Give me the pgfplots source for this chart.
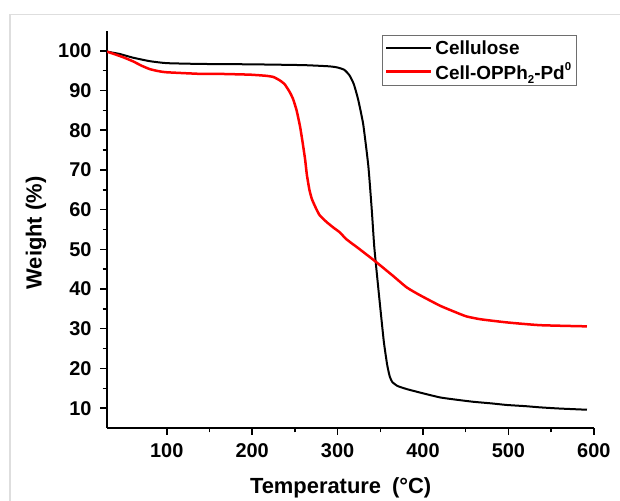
\documentclass[border=0pt]{standalone}
\usepackage{fontspec}
\setmainfont{Liberation Sans}
\usepackage{pgfplots}
\pgfplotsset{compat=1.18}
\definecolor{framegray}{RGB}{222,222,222}
\definecolor{leggray}{RGB}{110,110,110}
\definecolor{tgared}{RGB}{255,0,0}
\newcommand{\sub}[1]{\raisebox{-0.45ex}{\fontsize{11.5}{12}\selectfont #1}}
\newcommand{\super}[1]{\raisebox{0.85ex}{\fontsize{11.5}{12}\selectfont #1}}
\begin{document}
\begin{tikzpicture}[x=1bp,y=1bp]
\useasboundingbox (0,0) rectangle (620,501);
\draw[line width=1.5bp, framegray] (10,0) -- (10,486.5) -- (620,486.5);
\begin{axis}[
  at={(107bp,73bp)}, anchor=south west,
  scale only axis, width=486.8bp, height=397bp,
  xmin=30, xmax=600, ymin=5, ymax=105,
  axis x line*=bottom, axis y line*=left,
  axis line style={line width=1.6bp, -},
  xtick={100,200,...,600}, ytick={10,20,...,100},
  minor x tick num=1, minor y tick num=1,
  tick align=outside,
  major tick length=7bp, minor tick length=4.5bp,
  every tick/.style={line width=1.5bp, black},
  tick label style={font=\fontsize{20}{20}\selectfont\bfseries},
  xticklabel style={yshift=-5bp},
  yticklabel style={xshift=-5bp},
  /pgf/number format/assume math mode=true,
  xlabel={Temperature\hspace{0.5em}(°C)}, ylabel={Weight (\%)},
  label style={font=\fontsize{22}{24}\selectfont\bfseries},
  xlabel style={at={(axis description cs:0.48,-0.151)}, anchor=center},
  ylabel style={at={(axis description cs:-0.146,0.491)}, anchor=center},
  legend style={at={(0.965,0.99)}, anchor=north east, draw=leggray, line width=1.2bp,
     font=\fontsize{19}{21}\selectfont\bfseries, inner xsep=2bp, inner ysep=3bp,
     row sep=3bp, nodes={inner xsep=3bp}},
  legend cell align=left,
  legend image code/.code={\draw[#1] (0bp,0bp) -- (45bp,0bp);},
]
\addplot[black, line width=2bp, smooth, tension=0.3] coordinates {
(30,99.8) (45,99.2) (60,98.3) (80,97.4) (100,96.9) (140,96.7) (200,96.6) (260,96.4)
(290,96.1) (300,95.8) (308,95.2) (314,93.8) (319,91.6) (324,87.8) (330,81.5) (336,71) (340,60)
(343,50.5) (348,39.5) (354,27) (358,21) (361,18) (364,16.6) (370,15.6) (381,14.8)
(397,13.9) (420,12.7) (440,12.1) (459,11.6) (480,11.2) (498,10.8) (520,10.5)
(537,10.2) (560,9.9) (592,9.6)
};
\addlegendentry{Cellulose}
\addplot[tgared, line width=2.5bp, smooth, tension=0.3] coordinates {
(30,99.8) (41,99.0) (50,98.3) (61,97.3) (70,96.3) (80,95.4) (90,94.9) (100,94.6)
(139,94.2) (160,94.2) (197,94.0) (217,93.7) (225,93.4) (232,92.6) (238,91.6)
(244,89.6) (248,87.8) (252,85) (256,81) (259,77) (262,72.6) (264,68.8) (267,65)
(270,62.6) (275,60.2) (279,58.6) (287,56.9) (295,55.5) (303,54.2) (310,52.6)
(326,50) (344,47) (365,43.3) (381,40.4) (396,38.5) (420,35.8) (440,34.0) (451,33.1)
(467,32.4) (498,31.6) (537,30.9) (592,30.6)
};
\addlegendentry{Cell-OPPh\sub{2}-Pd\super{0}}
\end{axis}
\end{tikzpicture}
\end{document}
